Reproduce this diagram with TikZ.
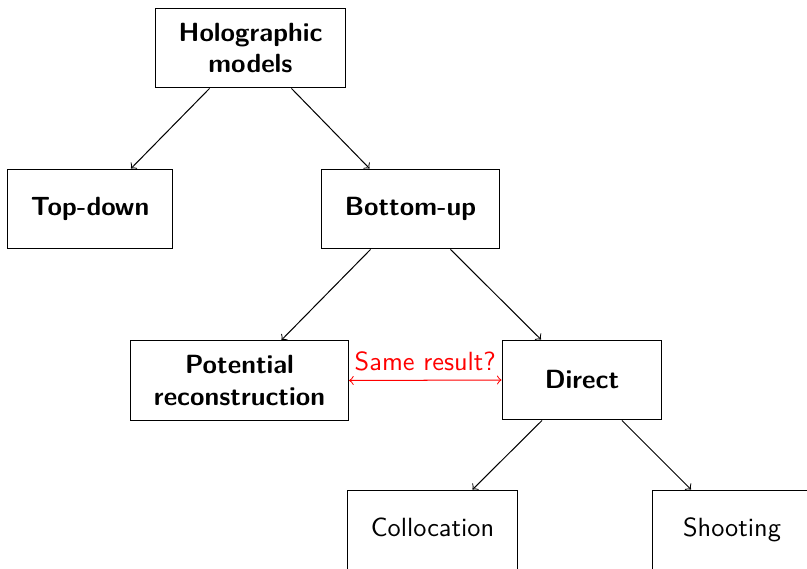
\documentclass[tikz,border=0pt]{standalone}
\begin{document}
\begin{tikzpicture}[x=0.3953pt, y=-0.3953pt,
            block/.style={draw, font=\sffamily\fontsize{10.4}{12.5}\selectfont, align=center, inner xsep=9.3pt, minimum width=63.2pt, minimum height=31.6pt},
            head/.style={block, font=\sffamily\bfseries\fontsize{10.4}{12.5}\selectfont},
            leaf/.style={block, text height=1.6ex, text depth=.5ex}]
            \useasboundingbox (0,0) rectangle (807,569);
            \node[head] (holo) at (250.5,48) {Holographic\\models};
            \node[head] (topdown) at (90,209) {Top-down};
            \node[head] (bottomup) at (410.5,209) {Bottom-up};
            \node[head] (potential) at (239.5,380.5) {Potential\\reconstruction};
            \node[head] (direct) at (582,380) {Direct};
            \node[leaf] (colloc) at (432.5,530) {Collocation};
            \node[leaf] (shoot) at (732,530) {Shooting};

            \draw[->] ([shift={(-41,0)}]holo.south) -- ([shift={(41,0)}]topdown.north);
            \draw[->] ([shift={(41,0)}]holo.south) -- ([shift={(-41,0)}]bottomup.north);
            \draw[->] ([shift={(-40,0)}]bottomup.south) -- ([shift={(42,0)}]potential.north);
            \draw[->] ([shift={(40,0)}]bottomup.south) -- ([shift={(-41,0)}]direct.north);
            \draw[->] ([shift={(-40,0)}]direct.south) -- ([shift={(40,0)}]colloc.north);
            \draw[->] ([shift={(40,0)}]direct.south) -- ([shift={(-41,0)}]shoot.north);
            \draw[<->, red] (potential.east) -- node[above, font=\sffamily\fontsize{10.4}{12.5}\selectfont, inner sep=3.5pt] {Same result?} (direct.west);
\end{tikzpicture}
\end{document}
